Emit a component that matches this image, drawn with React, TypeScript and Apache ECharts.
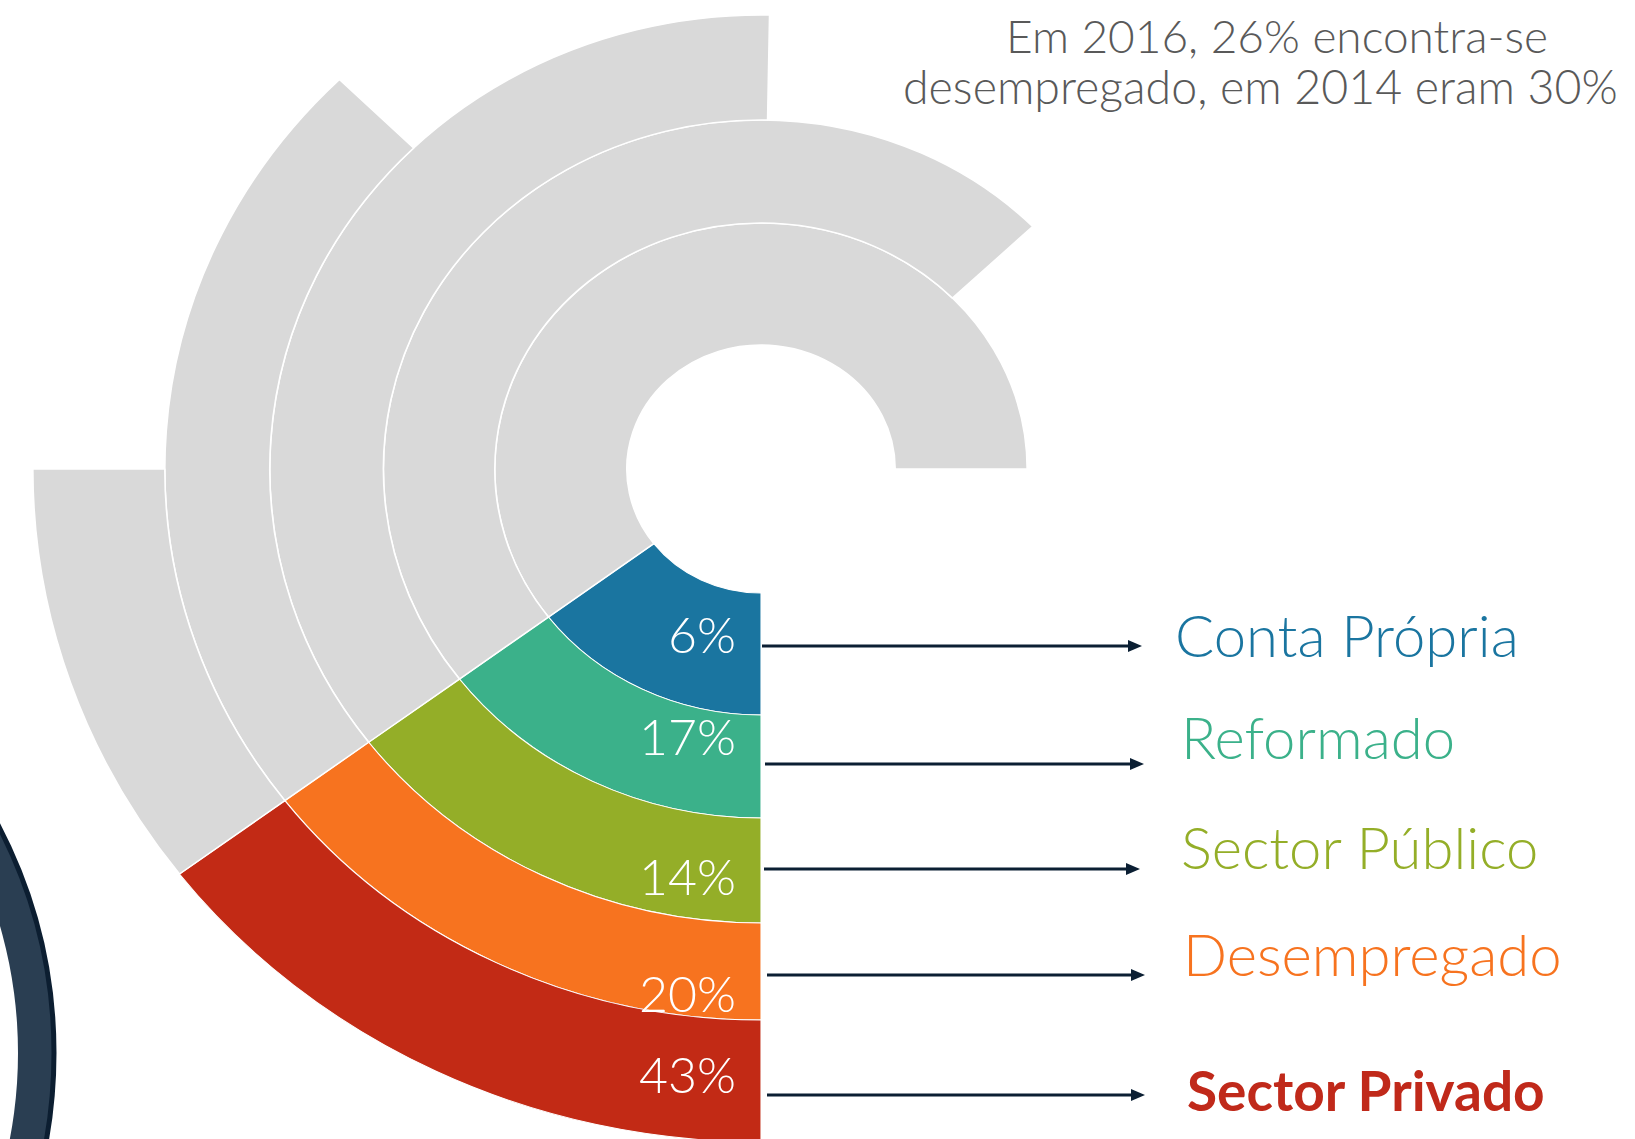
import React, { useEffect, useRef } from "react";
import * as echarts from "echarts";

// ---------- data ----------
const categories = ["Conta Própria", "Reformado", "Sector Público", "Desempregado", "Sector Privado"];
const shares = [6, 17, 14, 20, 43]; // % shown in each coloured arc
const colouredSweep = [53, 53, 53, 53, 53]; // degrees of coloured arc per ring
const greySweep = [217, 173, 128, 82, 37]; // degrees of grey arc per ring
const headline = ["Em 2016, 26% encontra-se", "desempregado, em 2014 eram 30%"];

// ---------- layout / style ----------
const W = 1635;
const H = 1139;
const CX = 761;
const CY = 469;
const STRETCH = 1.082;
const ringRadii = [124, 246, 349, 454, 551, 673];
const colours = ["#1a75a0", "#3bb18a", "#94ae28", "#f7731f", "#c22a15"];
const grey = "#d9d9d9";
const navy = "#0b1f33";
const pctRight = 736;
const pctY = [634, 736, 876, 993, 1074];
const arrowY = [646, 764, 869, 975, 1095];
const arrowX0 = [762, 765, 764, 767, 767];
const arrowX1 = [1142, 1144, 1140, 1145, 1145];
const labelX = [1175, 1181, 1181, 1183, 1187];
const labelY = [634, 736, 846, 953, 1090];
const FONT = "Lato, 'Open Sans', sans-serif";

export default function App() {
  const ringRef = useRef<HTMLDivElement>(null);
  const textRef = useRef<HTMLDivElement>(null);

  useEffect(() => {
    const ringChart = echarts.init(ringRef.current!, null, { renderer: "svg" });
    const textChart = echarts.init(textRef.current!, null, { renderer: "svg" });

    const series = categories.map((name, i) => ({
      type: "pie",
      name,
      center: [CX, CY],
      radius: [ringRadii[i], ringRadii[i + 1]],
      startAngle: 270,
      clockwise: true,
      silent: true,
      avoidLabelOverlap: false,
      label: { show: false },
      labelLine: { show: false },
      emphasis: { disabled: true },
      data: [
        { value: colouredSweep[i], name, itemStyle: { color: colours[i], borderColor: "#ffffff", borderWidth: 1 } },
        { value: greySweep[i], name: name + " (resto)", itemStyle: { color: grey, borderColor: "#ffffff", borderWidth: 1.5 } },
        {
          value: 360 - colouredSweep[i] - greySweep[i],
          name: name + " (vazio)",
          itemStyle: { color: "rgba(0,0,0,0)", borderWidth: 0 },
        },
      ],
    }));

    ringChart.setOption({ animation: false, series });

    const graphic: any[] = [];
    // decorative dark arc at bottom-left
    graphic.push({
      type: "ring",
      shape: { cx: -439, cy: 1053, r: 493, r0: 457 },
      style: { fill: "#2a3e52" },
      silent: true,
    });
    graphic.push({
      type: "circle",
      shape: { cx: -439, cy: 1053, r: 493 },
      style: { fill: "none", stroke: "#0c1e31", lineWidth: 5 },
      silent: true,
    });
    // headline
    graphic.push({
      type: "text",
      x: 1006,
      y: 35,
      style: { text: headline[0], fill: "#595959", fontSize: 46, fontFamily: FONT, fontWeight: 300, align: "left", verticalAlign: "middle" },
    });
    graphic.push({
      type: "text",
      x: 903,
      y: 86,
      style: { text: headline[1], fill: "#595959", fontSize: 46.5, fontFamily: FONT, fontWeight: 300, align: "left", verticalAlign: "middle" },
    });
    categories.forEach((name, i) => {
      graphic.push({
        type: "text",
        x: pctRight,
        y: pctY[i],
        style: { text: shares[i] + "%", fill: "#ffffff", fontSize: 50, fontFamily: FONT, fontWeight: 300, align: "right", verticalAlign: "middle" },
      });
      graphic.push({
        type: "line",
        shape: { x1: arrowX0[i], y1: arrowY[i], x2: arrowX1[i] - 10, y2: arrowY[i] },
        style: { stroke: navy, lineWidth: 3 },
      });
      graphic.push({
        type: "polygon",
        shape: { points: [[arrowX1[i] - 14, arrowY[i] - 6], [arrowX1[i], arrowY[i]], [arrowX1[i] - 14, arrowY[i] + 6]] },
        style: { fill: navy },
      });
      const last = i === categories.length - 1;
      graphic.push({
        type: "text",
        x: labelX[i],
        y: labelY[i],
        style: {
          text: name,
          fill: last ? "#c0291a" : colours[i],
          fontSize: last ? 55 : 58,
          fontFamily: FONT,
          fontWeight: last ? "bold" : 300,
          align: "left",
          verticalAlign: "middle",
        },
      });
    });

    textChart.setOption({ animation: false, graphic });

    return () => {
      ringChart.dispose();
      textChart.dispose();
    };
  }, []);

  return (
    <div style={{ position: "fixed", left: 0, top: 0, width: W, height: H, overflow: "hidden", background: "#ffffff" }}>
      <div
        ref={ringRef}
        style={{
          position: "absolute",
          left: 0,
          top: 0,
          width: W,
          height: H,
          transform: `scaleX(${STRETCH})`,
          transformOrigin: `${CX}px ${CY}px`,
        }}
      />
      <div ref={textRef} style={{ position: "absolute", left: 0, top: 0, width: W, height: H }} />
    </div>
  );
}
